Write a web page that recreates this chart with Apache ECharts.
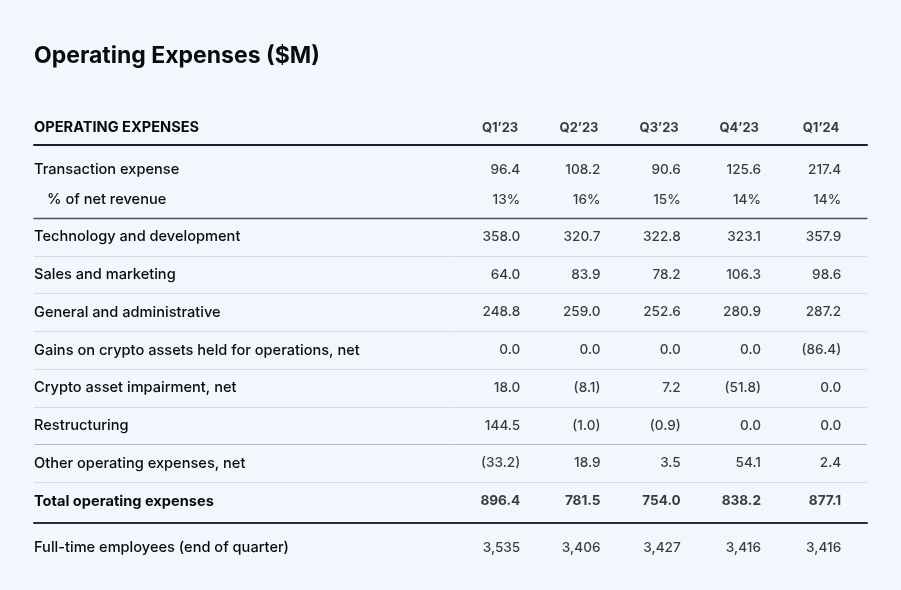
<!DOCTYPE html>
<html>
<head>
<meta charset="utf-8">
<script src="https://cdn.jsdelivr.net/npm/echarts@6/dist/echarts.min.js"></script>
<style>
  html, body { margin: 0; padding: 0; background: #f4f6fd; }
  #chart { width: 901px; height: 590px; }
</style>
</head>
<body>
<div id="chart"></div>
<script>
// ---- data ----
const quarters = ["Q1\u201923", "Q2\u201923", "Q3\u201923", "Q4\u201923", "Q1\u201924"];
const sectionHeader = "OPERATING EXPENSES";

const transactionLabels = ["Transaction expense", "% of net revenue"];
const transactionExpense = [96.4, 108.2, 90.6, 125.6, 217.4];
const pctOfNetRevenue = [13, 16, 15, 14, 14];

const expenseLabels = [
  "Technology and development",
  "Sales and marketing",
  "General and administrative",
  "Gains on crypto assets held for operations, net",
  "Crypto asset impairment, net",
  "Restructuring",
  "Other operating expenses, net",
  "Total operating expenses"
];
const technologyDevelopment = [358.0, 320.7, 322.8, 323.1, 357.9];
const salesMarketing = [64.0, 83.9, 78.2, 106.3, 98.6];
const generalAdministrative = [248.8, 259.0, 252.6, 280.9, 287.2];
const gainsOnCryptoAssets = [0.0, 0.0, 0.0, 0.0, -86.4];
const cryptoImpairment = [18.0, -8.1, 7.2, -51.8, 0.0];
const restructuring = [144.5, -1.0, -0.9, 0.0, 0.0];
const otherOperating = [-33.2, 18.9, 3.5, 54.1, 2.4];
const totalOperating = [896.4, 781.5, 754.0, 838.2, 877.1];

const employeeLabels = ["Full-time employees (end of quarter)"];
const fullTimeEmployees = [3535, 3406, 3427, 3416, 3416];

// ---- formatting helpers ----
const fmtMoney = v => v < 0 ? "(" + Math.abs(v).toFixed(1) + ")" : v.toFixed(1);
const fmtPct = v => v + "%";
const fmtInt = v => v.toLocaleString("en-US");

const FONT = "Inter, 'Noto Sans', sans-serif";
const INK = "#0a0b0d";
const XMIN = -6.065, XMAX = 4.315;
const ROW_FS = 14.6, ROW_FW = 500;
const NUM_FS = 13.6, NUM_FW = 500;

function cells(rowsArr, fmts, bolds) {
  const out = [];
  rowsArr.forEach((vals, r) => {
    vals.forEach((v, c) => {
      out.push({
        value: [c, r],
        name: fmts[r](v),
        label: { fontWeight: bolds && bolds[r] ? 700 : NUM_FW }
      });
    });
  });
  return out;
}

const xAxisBase = (gi, pos, line) => ({
  gridIndex: gi, type: "value", min: XMIN, max: XMAX, position: pos,
  axisLine: line ? { show: true, onZero: false, lineStyle: line } : { show: false },
  axisTick: { show: false }, axisLabel: { show: false }, splitLine: { show: false }
});

const rowLabel = (extra) => Object.assign({
  align: "left", margin: 0, color: INK, fontFamily: FONT, fontSize: ROW_FS, fontWeight: ROW_FW
}, extra || {});

const yAxisBase = (gi, cats, extra) => Object.assign({
  gridIndex: gi, type: "category", data: cats, inverse: true,
  axisLine: { show: false }, axisTick: { show: false },
  axisLabel: rowLabel(),
  splitLine: { show: false }
}, extra || {});

const cellSeries = (gi, data, labelExtra) => ({
  type: "scatter", xAxisIndex: gi, yAxisIndex: gi,
  symbolSize: 1, itemStyle: { color: "rgba(0,0,0,0)" }, silent: true,
  label: Object.assign({
    show: true, position: "left", distance: 0, formatter: "{b}",
    color: INK, fontFamily: FONT, fontSize: NUM_FS, fontWeight: NUM_FW
  }, labelExtra || {}),
  data: data
});

const headerCells = quarters.map((q, c) => ({ value: [c, 0], name: q }));

const option = {
  backgroundColor: "#f4f6fd",
  animation: false,
  title: {
    text: "Operating Expenses ($M)", left: 34, top: 45, padding: 0,
    textStyle: { fontFamily: FONT, fontSize: 23, fontWeight: 700, color: INK }
  },
  grid: [
    { left: 34, right: 34, top: 111, height: 34 },
    { left: 34, right: 34, top: 155, height: 60 },
    { left: 34, right: 34, top: 218, height: 302 },
    { left: 34, right: 34, top: 523, height: 49 }
  ],
  xAxis: [
    xAxisBase(0, "bottom", { color: "#1c1f26", width: 2 }),
    xAxisBase(1, "bottom", null),
    xAxisBase(2, "top", { color: "#4c4f57", width: 1.3 }),
    xAxisBase(3, "top", { color: "#2a2d35", width: 2 })
  ],
  yAxis: [
    yAxisBase(0, [sectionHeader], {
      axisLabel: rowLabel({ fontSize: 14.6, fontWeight: 700 })
    }),
    yAxisBase(1, transactionLabels, {
      axisLabel: rowLabel({
        formatter: (v, i) => i === 1 ? "{ind|" + v + "}" : v,
        rich: { ind: { padding: [0, 0, 0, 13], fontSize: ROW_FS, fontWeight: ROW_FW, color: INK, fontFamily: FONT } }
      })
    }),
    yAxisBase(2, expenseLabels, {
      axisLabel: rowLabel({
        formatter: (v, i) => i === expenseLabels.length - 1 ? "{b|" + v + "}" : v,
        rich: { b: { fontWeight: 700, fontSize: ROW_FS, color: INK, fontFamily: FONT } }
      }),
      splitLine: {
        show: true,
        lineStyle: {
          width: 1,
          color: ["rgba(0,0,0,0)", "#d8dbe3", "#d8dbe3", "#d8dbe3", "#d8dbe3", "#d8dbe3", "#b8bbc4", "#d8dbe3", "rgba(0,0,0,0)"]
        }
      }
    }),
    yAxisBase(3, employeeLabels)
  ],
  series: [
    cellSeries(0, headerCells, { fontSize: 13, fontWeight: 700, offset: [-2, 0] }),
    cellSeries(1, cells([transactionExpense, pctOfNetRevenue], [fmtMoney, fmtPct])),
    cellSeries(2, cells(
      [technologyDevelopment, salesMarketing, generalAdministrative, gainsOnCryptoAssets,
       cryptoImpairment, restructuring, otherOperating, totalOperating],
      [fmtMoney, fmtMoney, fmtMoney, fmtMoney, fmtMoney, fmtMoney, fmtMoney, fmtMoney],
      [false, false, false, false, false, false, false, true])),
    cellSeries(3, cells([fullTimeEmployees], [fmtInt]))
  ]
};

const chart = echarts.init(document.getElementById("chart"), null, { renderer: "canvas" });
chart.setOption(option);
</script>
</body>
</html>
